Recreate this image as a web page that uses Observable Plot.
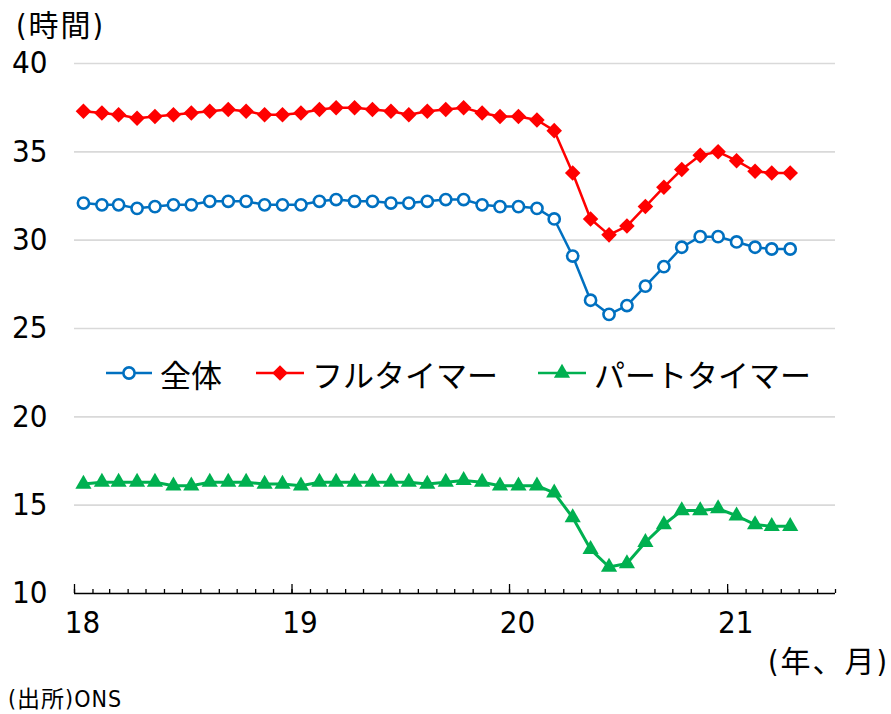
<!DOCTYPE html>
<html><head><meta charset="utf-8">
<script src="https://cdn.jsdelivr.net/npm/d3@7"></script>
<script src="https://cdn.jsdelivr.net/npm/@observablehq/plot@0.6"></script>
<style>
body{margin:0;background:#fff;}
#wrap{position:relative;width:891px;height:714px;font-family:"Liberation Sans Narrow","DejaVu Sans Condensed","Noto Sans CJK JP",sans-serif;}
.t{position:absolute;white-space:nowrap;color:#000;line-height:1;}
.leg{position:absolute;display:flex;align-items:center;height:40px;}
.leg span{font-family:"Noto Sans CJK JP",sans-serif;font-size:31px;line-height:1;color:#000;}
</style></head><body><div id="wrap"></div>
<script>
const months = ["2018-01","2018-02","2018-03","2018-04","2018-05","2018-06","2018-07","2018-08","2018-09","2018-10","2018-11","2018-12",
  "2019-01","2019-02","2019-03","2019-04","2019-05","2019-06","2019-07","2019-08","2019-09","2019-10","2019-11","2019-12",
  "2020-01","2020-02","2020-03","2020-04","2020-05","2020-06","2020-07","2020-08","2020-09","2020-10","2020-11","2020-12",
  "2021-01","2021-02","2021-03","2021-04"];
const whole = [32.1,32.0,32.0,31.8,31.9,32.0,32.0,32.2,32.2,32.2,32.0,32.0,32.0,32.2,32.3,32.2,32.2,32.1,32.1,32.2,32.3,32.3,32.0,31.9,31.9,31.8,31.2,29.1,26.6,25.8,26.3,27.4,28.5,29.6,30.2,30.2,29.9,29.6,29.5,29.5];
const full = [37.3,37.2,37.1,36.9,37.0,37.1,37.2,37.3,37.4,37.3,37.1,37.1,37.2,37.4,37.5,37.5,37.4,37.3,37.1,37.3,37.4,37.5,37.2,37.0,37.0,36.8,36.2,33.8,31.2,30.3,30.8,31.9,33.0,34.0,34.8,35.0,34.5,33.9,33.8,33.8];
const part = [16.2,16.3,16.3,16.3,16.3,16.1,16.1,16.3,16.3,16.3,16.2,16.2,16.1,16.3,16.3,16.3,16.3,16.3,16.3,16.2,16.3,16.4,16.3,16.1,16.1,16.1,15.7,14.3,12.5,11.5,11.7,12.9,13.9,14.7,14.7,14.8,14.4,13.9,13.8,13.8];
const yTicks = [10,15,20,25,30,35,40];
const yearTicks = ["2018-01","2019-01","2020-01","2021-01"];
const yearLabels = ["18","19","20","21"];
const axisEnd = "2021-07";
const seriesNames = ["全体","フルタイマー","パートタイマー"];
const colors = ["#0070C0","#FF0000","#00B050"];
const unitY = "(時間)";
const unitX = "(年、月)";
const source = "(出所)ONS";

const parse = d3.utcParse("%Y-%m");
const mid = s => d3.utcDay.offset(parse(s), 15);
const rows = months.map((m, i) => ({date: mid(m), whole: whole[i], full: full[i], part: part[i]}));
const monthTicks = d3.utcMonths(parse(months[0]), d3.utcMonth.offset(parse(axisEnd), 1));
const yearDates = yearTicks.map(parse);
const labelOf = new Map(yearDates.map((d, i) => [+d, yearLabels[i]]));
const numFont = '"Liberation Sans Narrow","DejaVu Sans Condensed",sans-serif';

const chart = Plot.plot({
  width: 891, height: 650,
  marginLeft: 74, marginRight: 56, marginTop: 63, marginBottom: 57,
  style: {fontFamily: numFont, fontSize: "31px", color: "#000", background: "#fff", overflow: "visible"},
  x: {type: "utc", domain: [parse(months[0]), parse(axisEnd)]},
  y: {domain: [10, 40]},
  marks: [
    Plot.ruleY(yTicks.filter(v => v > 10), {stroke: "#d9d9d9", strokeWidth: 1.6}),
    Plot.axisY(yTicks, {tickSize: 0, tickPadding: 27, label: null, fontSize: 31}),
    Plot.ruleY([10], {stroke: "#000", strokeWidth: 1.6}),
    Plot.axisX(monthTicks, {tickSize: -4, text: null, label: null, stroke: "#000", strokeWidth: 1.3}),
    Plot.axisX(yearDates, {tickSize: -9, text: null, label: null, stroke: "#000", strokeWidth: 1.3}),
    Plot.axisX(yearDates, {tickSize: 0, tickPadding: 17, dx: 8, label: null, fontSize: 31, tickFormat: d => labelOf.get(+d)}),
    Plot.line(rows, {x: "date", y: "part", stroke: colors[2], strokeWidth: 3}),
    Plot.dot(rows, {x: "date", y: "part", symbol: "triangle", r: 6, fill: colors[2], stroke: "none"}),
    Plot.line(rows, {x: "date", y: "full", stroke: colors[1], strokeWidth: 2.5}),
    Plot.dot(rows, {x: "date", y: "full", symbol: "diamond2", r: 7, fill: colors[1], stroke: "none"}),
    Plot.line(rows, {x: "date", y: "whole", stroke: colors[0], strokeWidth: 2.5}),
    Plot.dot(rows, {x: "date", y: "whole", symbol: "circle", r: 5.6, fill: "#fff", stroke: colors[0], strokeWidth: 2.6})
  ]
});

const wrap = document.getElementById("wrap");
wrap.appendChild(chart);

function addText(txt, css) {
  const d = document.createElement("div");
  d.className = "t";
  d.textContent = txt;
  Object.assign(d.style, css);
  wrap.appendChild(d);
}
addText(unitY, {left: "16px", top: "11px", fontSize: "30px", letterSpacing: "2px"});
addText(unitX, {right: "2px", top: "647px", fontSize: "30px", letterSpacing: "2px"});
addText(source, {left: "8px", top: "688px", fontSize: "23px", letterSpacing: "1px"});

// legend
const legendPos = [{sw: 106, tx: 160}, {sw: 256, tx: 312}, {sw: 538, tx: 594}];
seriesNames.forEach((name, i) => {
  const g = document.createElement("div");
  g.className = "leg";
  g.style.left = legendPos[i].sw + "px";
  g.style.top = "353px";
  const w = legendPos[i].tx - legendPos[i].sw - 8;
  const svg = d3.create("svg").attr("width", w).attr("height", 40).style("margin-right", "8px");
  svg.append("line").attr("x1", 0).attr("x2", w).attr("y1", 20).attr("y2", 20)
    .attr("stroke", colors[i]).attr("stroke-width", 2.5);
  const sym = i === 0 ? d3.symbolCircle : i === 1 ? d3.symbolDiamond2 : d3.symbolTriangle;
  const rr = i === 0 ? 5.6 : i === 1 ? 7 : 6;
  svg.append("path").attr("transform", `translate(${w / 2},20)`)
    .attr("d", d3.symbol(sym, Math.PI * rr * rr)())
    .attr("fill", i === 0 ? "#fff" : colors[i])
    .attr("stroke", i === 0 ? colors[0] : "none").attr("stroke-width", 2.6);
  g.appendChild(svg.node());
  const s = document.createElement("span");
  s.textContent = name;
  g.appendChild(s);
  wrap.appendChild(g);
});
</script></body></html>
